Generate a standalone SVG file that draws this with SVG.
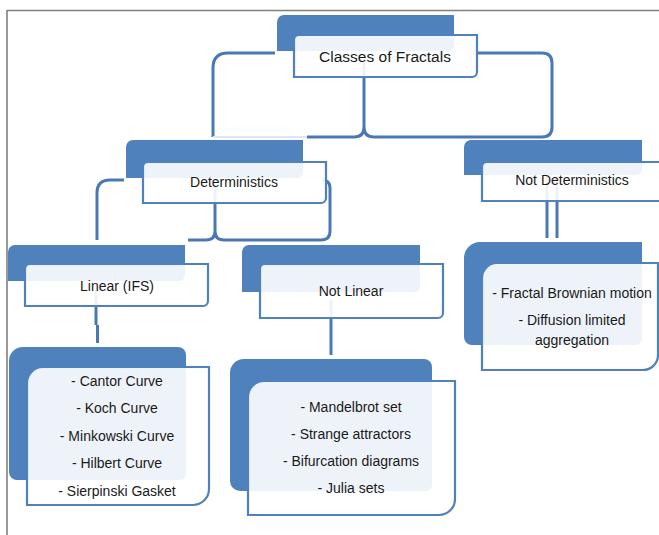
<svg xmlns="http://www.w3.org/2000/svg" width="659" height="535" viewBox="0 0 659 535">
<style>
.frame{stroke:#808080;stroke-width:1.6;fill:none}
.dark{fill:#4f81bd}
.front{fill:#ffffff;fill-opacity:0.9;stroke:#4f81bd;stroke-width:2.2}
.con{fill:none;stroke:#4a78b4;stroke-width:3}
.faint{fill:none;stroke:#dfe7f2;stroke-width:2}
text{font-family:"Liberation Sans",Arial,sans-serif;font-size:14px;fill:#1a1a1a;text-anchor:middle}
.title{font-size:15.5px}
</style>
<rect width="659" height="535" fill="#ffffff"/>
<g id="frame">
<path class="frame" d="M7 10.5 H659 M7 10 V535"/>
</g>
<g id="connectors">
<path class="con" d="M275 53 H228 Q213 53 213 68 V137"/>
<path class="faint" d="M213 137 H307"/>
<path class="con" d="M364 60 V127 Q364 137 354 137 H307 M364 127 Q364 137 374 137 H465"/>
<path class="con" d="M477 53 H542 Q552 53 552 63 V127 Q552 137 542 137 H465"/>
<path class="con" d="M124 180 H110 Q97 180 97 193 V240"/>
<path class="con" d="M215 185 V231 Q215 240 206 240 H188 M215 231 Q215 240 224 240 H243"/>
<path class="con" d="M326 180 H322 Q330 180 330 188 V231 Q330 240 321 240 H243"/>
<path class="con" d="M96 290 V325 M97.5 325 V343"/>
<path class="con" d="M331 300 V355"/>
<path class="con" d="M547 176 V238 M557 176 V238"/>
</g>
<g id="node-classes">
<path class="dark" d="M277 22 A7 7 0 0 1 284 15 H454 V45 A6 6 0 0 1 448 51 H277 Z"/>
<path class="front" d="M294 40 A5 5 0 0 1 299 35 H477 V72 A5 5 0 0 1 472 77 H294 Z"/>
<text class="title" x="385" y="62">Classes of Fractals</text>
</g>
<g id="node-deterministics">
<path class="dark" d="M126 147 A7 7 0 0 1 133 140 H303 V172 A6 6 0 0 1 297 178 H126 Z"/>
<path class="front" d="M143 167 A5 5 0 0 1 148 162 H326 V198 A5 5 0 0 1 321 203 H143 Z"/>
<text x="234" y="187">Deterministics</text>
</g>
<g id="node-not-deterministics">
<path class="dark" d="M464 147 A7 7 0 0 1 471 140 H642 V169 A6 6 0 0 1 636 175 H464 Z"/>
<path class="front" d="M482 167 A5 5 0 0 1 487 162 H664 V201 H482 Z"/>
<text x="572" y="185">Not Deterministics</text>
</g>
<g id="node-linear">
<path class="dark" d="M8 252 A7 7 0 0 1 15 245 H185 V275 A6 6 0 0 1 179 281 H8 Z"/>
<path class="front" d="M25 269 A5 5 0 0 1 30 264 H208 V301 A5 5 0 0 1 203 306 H25 Z"/>
<text x="117" y="291">Linear (IFS)</text>
</g>
<g id="node-not-linear">
<path class="dark" d="M242 252 A7 7 0 0 1 249 245 H420 V286 A6 6 0 0 1 414 292 H242 Z"/>
<path class="front" d="M260 269 A5 5 0 0 1 265 264 H443 V313 A5 5 0 0 1 438 318 H260 Z"/>
<text x="351" y="296">Not Linear</text>
</g>
<g id="node-linear-examples">
<path class="dark" d="M9 361 A14 14 0 0 1 23 347 H178 A8 8 0 0 1 186 355 V474 A6 6 0 0 1 180 480 H17 A8 8 0 0 1 9 472 Z"/>
<path class="front" d="M27 383 A16 16 0 0 1 43 367 H209 V489 A16 16 0 0 1 193 505 H27 Z"/>
<text x="117" y="386">- Cantor Curve</text>
<text x="117" y="413">- Koch Curve</text>
<text x="117" y="441">- Minkowski Curve</text>
<text x="117" y="468">- Hilbert Curve</text>
<text x="117" y="496">- Sierpinski Gasket</text>
</g>
<g id="node-not-linear-examples">
<path class="dark" d="M230 373 A14 14 0 0 1 244 359 H424 A8 8 0 0 1 432 367 V485 A6 6 0 0 1 426 491 H240 A10 10 0 0 1 230 481 Z"/>
<path class="front" d="M248 397 A16 16 0 0 1 264 381 H455 V499 A16 16 0 0 1 439 515 H248 Z"/>
<text x="351" y="412">- Mandelbrot set</text>
<text x="351" y="439">- Strange attractors</text>
<text x="351" y="466">- Bifurcation diagrams</text>
<text x="351" y="493">- Julia sets</text>
</g>
<g id="node-not-deterministic-examples">
<path class="dark" d="M464 258 A16 16 0 0 1 480 242 H642 V339 A6 6 0 0 1 636 345 H472 A8 8 0 0 1 464 337 Z"/>
<path class="front" d="M482 278 A15 15 0 0 1 497 263 H658 V355 A15 15 0 0 1 643 370 H482 Z"/>
<text x="572" y="298">- Fractal Brownian motion</text>
<text x="572" y="325">- Diffusion limited</text>
<text x="572" y="345">aggregation</text>
</g>
</svg>
